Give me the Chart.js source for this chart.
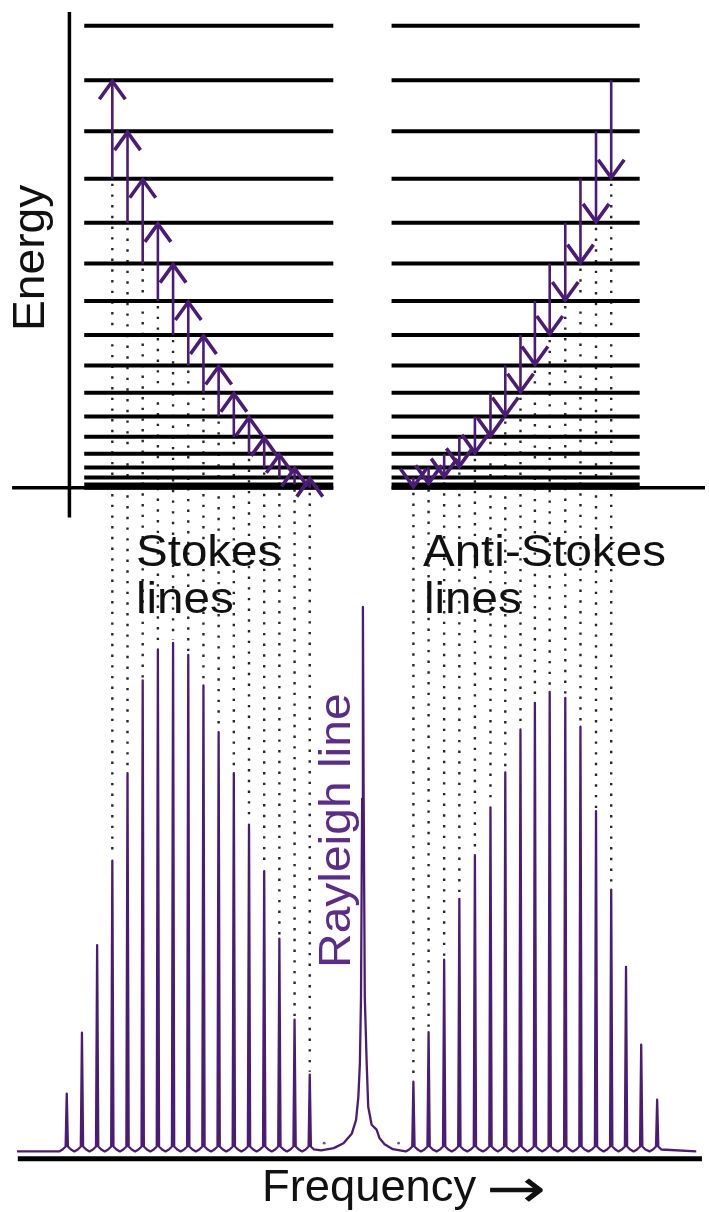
<!DOCTYPE html>
<html><head><meta charset="utf-8">
<script src="https://cdn.jsdelivr.net/npm/chart.js@4/dist/chart.umd.min.js"></script>
<style>
html,body{margin:0;padding:0;background:#fff;}
#wrap{position:relative;width:709px;height:1212px;overflow:hidden;background:#fff;}
#c{position:absolute;left:0;top:0;}
.t{position:absolute;font-family:"Liberation Sans",Arial,Helvetica,sans-serif;font-size:44px;line-height:44px;white-space:nowrap;color:#111;transform-origin:0 0;}
</style></head><body>
<div id="wrap">
<canvas id="c" width="709" height="1212"></canvas>
<div class="t" style="left:7px;top:331px;transform:rotate(-90deg) scaleX(1.05)">Energy</div>
<div class="t" style="left:136px;top:529px;transform:scaleX(1.08)">Stokes</div>
<div class="t" style="left:136px;top:576px;transform:scaleX(1.08)">lines</div>
<div class="t" style="left:423px;top:529px;transform:scaleX(1.08)">Anti-Stokes</div>
<div class="t" style="left:424px;top:576px;transform:scaleX(1.08)">lines</div>
<div class="t" style="left:313px;top:968px;color:#5b2d8a;transform:rotate(-90deg) scaleX(1.09)">Rayleigh line</div>
<div class="t" style="left:262px;top:1164px;transform:scaleX(1.03)">Frequency</div>
<div class="t" style="left:486px;top:1161px;font-family:'DejaVu Sans',sans-serif;font-size:54px;line-height:56px;transform:scaleX(1.33)">→</div>
</div>
<script>
// ---------- data ----------
// rotational quantum number J of each energy level
const levelJ = [0,1,2,3,4,5,6,7,8,9,10,11,12,13,14,15,16];
// energy of each level (units of B)
const levelEnergy = [0,2,6,12,20,30,42,56,72,90,110,132,156,182,210,240,272];
// transitions drawn as arrows: J -> J+2
const transitionJ = [0,1,2,3,4,5,6,7,8,9,10,11,12,13];
// Stokes lines: shift from Rayleigh line (units of B) and intensity, indexed by J
const stokesShift = [-14,-18,-22,-26,-30,-34,-38,-42,-46,-50,-54,-58,-62,-66,-70,-74,-78];
const stokesIntensity = [14.1,24.2,39.1,51.5,60.0,69.5,77.0,85.6,91.2,93.4,92.2,86.5,69.5,53.4,37.9,21.8,10.6];
// Anti-Stokes lines
const antiStokesShift = [13.3,17.3,21.4,25.4,29.5,33.6,37.5,41.5,45.3,49.2,53.3,57.3,61.4,65.4,69.3,73.3,77.5];
const antiStokesIntensity = [12.8,21.9,35.2,46.4,54.4,63.2,69.6,77.5,82.4,84.4,83.3,78.0,62.5,48.1,33.9,19.6,9.5];
// Rayleigh line profile
const rayleighShift = [-11,-7.7,-5.1,-2.9,-1.8,-1.2,-0.8,-0.5,-0.2,0,0.2,0.5,1.0,1.4,2.3,3.6,4.4,5.7,7.9,10.5];
const rayleighIntensity = [0.2,0.6,1.5,3.3,5.8,10.0,16.1,28.3,64.8,100,64.8,28.3,16.1,8.2,4.9,4.0,2.4,1.3,0.4,0.1];
// two stray dots beside the Rayleigh line
const strayDotShift = [-10.2, 9.4];
const strayDotIntensity = [1.5, 1.5];

// ---------- layout (axis units) ----------
const LAYOUT = {
  xRange: [-94.531, 90.104],
  eRange: [-424.09, 284.87],
  iRange: [-10.40, 210.77],
  levelBlocks: [[-73.4, -7.8], [7.55, 72.9]],
  energyAxisX: -77.3, energyAxisE: [-17.5, 280.2],
  energyBaseSegments: [[-92.4, -7.8], [7.55, 90.1]],
  freqAxisI: -1.37, freqAxisX: [-90.9, 89.3],
  spectrumEnds: [-91.1, 87.8]
};
const PURPLE = '#4a1c76';

// ---------- build datasets ----------
const levelData = [];
levelEnergy.forEach(E => {
  LAYOUT.levelBlocks.forEach(([a, b]) => {
    levelData.push({x: a, y: E}, {x: b, y: E}, {x: b, y: null});
  });
});

const spectrum = [{x: LAYOUT.spectrumEnds[0], y: 0}];
function addSpike(s, h) {
  spectrum.push({x: s - 2, y: 0}, {x: s - 1.1, y: 0.35}, {x: s - 0.3, y: 0.9},
                {x: s, y: h}, {x: s + 0.3, y: 0.9}, {x: s + 1.1, y: 0.35});
}
for (let J = stokesShift.length - 1; J >= 0; J--) addSpike(stokesShift[J], stokesIntensity[J]);
rayleighShift.forEach((s, i) => spectrum.push({x: s, y: rayleighIntensity[i]}));
for (let J = 0; J < antiStokesShift.length; J++) addSpike(antiStokesShift[J], antiStokesIntensity[J]);
spectrum.push({x: LAYOUT.spectrumEnds[1], y: 0});

const strayDots = strayDotShift.map((s, i) => ({x: s, y: strayDotIntensity[i]}));

// ---------- drawing plugin ----------
function drawArrow(ctx, px, y0, y1) {
  ctx.lineWidth = 2.6;
  ctx.beginPath(); ctx.moveTo(px, y0); ctx.lineTo(px, y1); ctx.stroke();
  const dir = y1 < y0 ? 1 : -1;
  ctx.lineWidth = 3.6;
  ctx.beginPath();
  ctx.moveTo(px - 13, y1 + dir * 18); ctx.lineTo(px, y1); ctx.lineTo(px + 13, y1 + dir * 18);
  ctx.stroke();
}

const diagram = {
  id: 'diagram',
  beforeDatasetsDraw(chart) {
    const {ctx, scales: {x, yE, yI}} = chart;
    ctx.save();
    // dotted connectors from level J down to the spectral line
    ctx.strokeStyle = '#262626'; ctx.lineWidth = 2.4; ctx.setLineDash([2.4, 8.3]);
    transitionJ.forEach(J => {
      [[stokesShift, stokesIntensity], [antiStokesShift, antiStokesIntensity]].forEach(([s, I]) => {
        const px = x.getPixelForValue(s[J]);
        ctx.beginPath();
        ctx.moveTo(px, yE.getPixelForValue(levelEnergy[J]) + 5);
        ctx.lineTo(px, yI.getPixelForValue(I[J]) - 3);
        ctx.stroke();
      });
    });
    ctx.setLineDash([]);
    // energy axes
    ctx.strokeStyle = '#000'; ctx.lineWidth = 3.5;
    ctx.beginPath();
    const ax = x.getPixelForValue(LAYOUT.energyAxisX);
    ctx.moveTo(ax, yE.getPixelForValue(LAYOUT.energyAxisE[1]));
    ctx.lineTo(ax, yE.getPixelForValue(LAYOUT.energyAxisE[0]));
    ctx.stroke();
    LAYOUT.energyBaseSegments.forEach(([a, b]) => {
      ctx.beginPath();
      ctx.moveTo(x.getPixelForValue(a), yE.getPixelForValue(0));
      ctx.lineTo(x.getPixelForValue(b), yE.getPixelForValue(0));
      ctx.stroke();
    });
    // frequency axis
    ctx.lineWidth = 5;
    ctx.beginPath();
    ctx.moveTo(x.getPixelForValue(LAYOUT.freqAxisX[0]), yI.getPixelForValue(LAYOUT.freqAxisI));
    ctx.lineTo(x.getPixelForValue(LAYOUT.freqAxisX[1]), yI.getPixelForValue(LAYOUT.freqAxisI));
    ctx.stroke();
    ctx.restore();
  },
  afterDatasetsDraw(chart) {
    const {ctx, scales: {x, yE}} = chart;
    ctx.save();
    ctx.strokeStyle = PURPLE; ctx.lineCap = 'butt'; ctx.lineJoin = 'miter';
    transitionJ.forEach(J => {
      // Stokes: upward J -> J+2
      const ps = x.getPixelForValue(stokesShift[J]);
      drawArrow(ctx, ps, yE.getPixelForValue(levelEnergy[J]), yE.getPixelForValue(levelEnergy[J + 2]) + 1);
      // Anti-Stokes: downward J+2 -> J
      const pa = x.getPixelForValue(antiStokesShift[J]);
      drawArrow(ctx, pa, yE.getPixelForValue(levelEnergy[J + 2]), yE.getPixelForValue(levelEnergy[J]) - 1);
    });
    ctx.restore();
  }
};

new Chart(document.getElementById('c'), {
  type: 'scatter',
  data: {
    datasets: [
      {label: 'spectrum', data: spectrum, xAxisID: 'x', yAxisID: 'yI', showLine: true,
       borderColor: PURPLE, borderWidth: 2.3, pointRadius: 0, tension: 0, borderJoinStyle: 'round'},
      {label: 'stray', data: strayDots, xAxisID: 'x', yAxisID: 'yI', pointRadius: 1.4,
       backgroundColor: '#6a5a7a', borderWidth: 0},
      {label: 'levels', data: levelData, xAxisID: 'x', yAxisID: 'yE', showLine: true, spanGaps: false,
       borderColor: '#000', borderWidth: 4, pointRadius: 0, borderCapStyle: 'butt'}
    ]
  },
  options: {
    responsive: false, animation: false, devicePixelRatio: 1,
    layout: {padding: 0},
    plugins: {legend: {display: false}, tooltip: {enabled: false}, title: {display: false}},
    scales: {
      x: {type: 'linear', display: false, min: LAYOUT.xRange[0], max: LAYOUT.xRange[1]},
      yE: {type: 'linear', display: false, min: LAYOUT.eRange[0], max: LAYOUT.eRange[1]},
      yI: {type: 'linear', display: false, min: LAYOUT.iRange[0], max: LAYOUT.iRange[1]}
    }
  },
  plugins: [diagram]
});
</script>
</body></html>
